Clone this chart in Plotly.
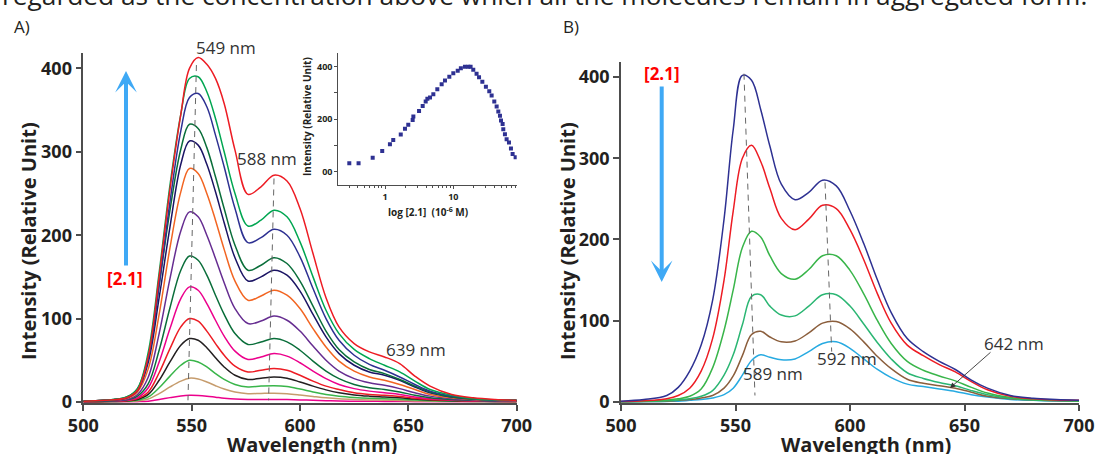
import plotly.graph_objects as go

# ---------------- data ----------------
wavelength = [500, 510, 520, 525, 530, 535, 540, 545, 549, 553, 557, 561, 565, 570, 576,
              582, 588, 594, 600, 606, 612, 618, 625, 632, 639, 646, 653, 660, 670, 680, 690, 700]

# Panel A: spectra at increasing [2.1]
a01_red = [1, 2, 5, 14, 55, 150, 255, 345, 400, 413, 405, 388, 358, 302, 249, 258, 272, 265, 232, 178, 125, 90, 70, 60, 54, 46, 31, 19, 9, 5, 3, 2]
a02_green = [1, 2, 6, 16, 60, 155, 260, 345, 388, 390, 372, 340, 300, 250, 211, 218, 230, 222, 192, 150, 110, 82, 63, 52, 44, 36, 25, 15, 8, 4, 2.5, 2]
a03_blue = [1, 2, 5, 14, 52, 140, 240, 325, 365, 370, 354, 320, 282, 232, 191, 197, 207, 200, 174, 136, 100, 74, 56, 45, 38, 30, 21, 13, 7, 4, 2.5, 2]
a04_dkgreen = [1, 2, 6, 16, 55, 140, 230, 303, 333, 328, 305, 270, 232, 188, 158, 164, 173, 166, 145, 115, 85, 63, 48, 39, 34, 27, 19, 12, 6, 3.5, 2.5, 2]
a05_navy = [1, 2, 5, 14, 48, 125, 210, 285, 313, 308, 285, 252, 215, 173, 145, 150, 158, 152, 133, 105, 78, 58, 44, 36, 32, 26, 18, 11, 6, 3.5, 2.5, 2]
a06_orange = [1, 2, 4, 12, 40, 105, 185, 252, 280, 274, 250, 218, 183, 145, 122, 127, 134, 128, 112, 88, 66, 49, 37, 30, 26, 21, 15, 9, 5, 3, 2, 1.5]
a07_purple = [0.8, 1.5, 3, 9, 30, 82, 148, 205, 228, 222, 200, 172, 143, 112, 94, 97, 103, 98, 85, 67, 50, 37, 28, 23, 20, 16, 11, 7, 4, 2.5, 1.5, 1]
a08_dkgreen = [0.5, 1, 2.5, 7, 22, 62, 113, 158, 175, 170, 152, 128, 105, 82, 69, 72, 76, 72, 62, 49, 37, 28, 21, 17, 15, 12, 8, 5, 3, 2, 1.2, 1]
a09_magenta = [0.4, 0.8, 2, 5, 17, 48, 88, 124, 138, 134, 118, 98, 79, 61, 51, 54, 58, 55, 47, 37, 28, 21, 16, 13, 11, 9, 6, 4, 2.5, 1.5, 1, 0.8]
a10_red = [0.3, 0.6, 1.5, 4, 12, 35, 64, 90, 100, 97, 85, 70, 56, 43, 36, 38, 40, 38, 32, 25, 19, 15, 11, 9, 8, 6.5, 4.5, 3, 2, 1.2, 0.8, 0.6]
a11_black = [0.2, 0.5, 1.2, 3, 9, 26, 48, 68, 76, 74, 65, 53, 42, 32, 27, 28.5, 30, 28.5, 24, 19, 14.5, 11, 8.5, 7, 6, 5, 3.5, 2.5, 1.5, 1, 0.7, 0.5]
a12_green = [0.2, 0.4, 0.8, 2, 6, 17, 31, 44, 50, 48, 42, 34, 27, 21, 18, 19, 19.5, 18.5, 15.5, 12, 9, 7, 5.5, 4.5, 4, 3.2, 2.3, 1.6, 1, 0.7, 0.5, 0.4]
a13_tan = [0.1, 0.3, 0.5, 1.2, 3.5, 10, 18, 25, 28.5, 27.5, 24, 19.5, 15.5, 12, 10, 10.3, 10.5, 10, 8.5, 6.7, 5, 3.8, 3, 2.5, 2.2, 1.8, 1.3, 0.9, 0.6, 0.4, 0.3, 0.2]
a14_magenta = [0.05, 0.1, 0.2, 0.4, 1, 3, 5.2, 7.2, 8, 7.8, 7, 5.8, 4.6, 3.5, 3, 3, 3, 2.9, 2.5, 2, 1.5, 1.2, 0.9, 0.8, 0.7, 0.6, 0.4, 0.3, 0.2, 0.15, 0.1, 0.1]

# Panel B: spectra at decreasing [2.1]
b1_navy = [1, 3, 8, 18, 38, 70, 125, 225, 335, 402, 396, 360, 315, 268, 249, 258, 273, 266, 235, 195, 150, 110, 78, 62, 50, 40, 27, 17, 8, 4.5, 3, 2]
b2_red = [0.5, 1.5, 4, 8, 17, 38, 78, 150, 235, 300, 316, 296, 263, 226, 212, 225, 242, 238, 212, 175, 133, 97, 70, 57, 46, 37, 25, 15, 7, 4, 2.5, 2]
b3_green = [0.3, 1, 2.5, 4, 7, 16, 42, 88, 138, 190, 210, 203, 180, 158, 151, 163, 180, 180, 162, 133, 100, 72, 50, 39, 32, 26, 18, 11, 5.5, 3, 2, 1.5]
b4_green = [0.2, 0.7, 1.5, 2.5, 4, 7, 14, 33, 58, 95, 130, 132, 118, 107, 106, 118, 132, 132, 118, 96, 73, 53, 36, 29, 24, 20, 14, 9, 4.5, 2.5, 1.7, 1.2]
b5_brown = [0.2, 0.5, 1, 2, 3, 5, 8, 17, 32, 57, 83, 87, 80, 74, 75, 85, 97, 99, 90, 74, 56, 41, 28, 23, 20, 17, 12, 7, 4, 2.5, 1.5, 1]
b6_cyan = [0.1, 0.3, 0.7, 1, 2, 3, 5, 9, 17, 33, 51, 58, 55, 52, 53, 62, 72, 74, 66, 53, 40, 30, 22, 19, 16, 13, 9, 6, 3, 2, 1.2, 1]

# Inset: intensity vs concentration of 2.1 (1e-6 M)
inset_conc = [0.30, 0.41, 0.66, 0.91, 1.18, 1.32, 1.70, 1.96, 2.19, 2.54, 2.60, 3.15, 3.56, 3.94,
              4.17, 4.56, 5.10, 5.83, 6.75, 7.55, 8.74, 10.0, 11.6, 12.9, 14.8, 16.6, 17.9, 19.6,
              21.9, 23.8, 26.6, 30.0, 33.6, 36.4, 39.8, 43.1, 45.6, 48.2, 49.9, 52.7, 53.9, 57.0,
              60.3, 65.3, 69.8, 73.8, 81.7]
inset_int = [32, 32, 53, 79, 105, 121, 142, 164, 179, 197, 210, 231, 250, 267,
             278, 283, 295, 314, 333, 347, 362, 375, 385, 394, 400, 400, 400, 388,
             373, 360, 343, 324, 306, 290, 267, 248, 229, 213, 195, 182, 162, 143,
             124, 111, 88, 67, 55]

peak_labels_A = ["549 nm", "588 nm", "639 nm"]
peak_labels_B = ["589 nm", "592 nm", "642 nm"]
ticks_main = [0, 100, 200, 300, 400]
ticks_wl = [500, 550, 600, 650, 700]

series_A = [a14_magenta, a13_tan, a12_green, a11_black, a10_red, a09_magenta, a08_dkgreen,
            a07_purple, a06_orange, a05_navy, a04_dkgreen, a03_blue, a02_green, a01_red]
colors_A = ["#ec008c", "#c69c6d", "#39b54a", "#231f20", "#ed1c24", "#ec008c", "#0a6e3a",
            "#662d91", "#f26522", "#1b1464", "#0a6e3a", "#2e3192", "#00a651", "#ed1c24"]
series_B = [b6_cyan, b5_brown, b4_green, b3_green, b2_red, b1_navy]
colors_B = ["#27aae1", "#8b5e3c", "#2bb673", "#39b54a", "#ed1c24", "#2e3192"]

# ---------------- figure ----------------
W, H = 1097, 454
def fx(p): return p / W
def fy(p): return 1 - p / H

AX = "#4d4d4d"
TXT = "#231f20"
FONT = "Open Sans"

fig = go.Figure()
for vals, col in zip(series_A, colors_A):
    fig.add_trace(go.Scatter(x=wavelength, y=vals, mode="lines", xaxis="x", yaxis="y",
                             line=dict(color=col, width=1.5, shape="spline", smoothing=1.0),
                             showlegend=False, hoverinfo="skip"))
for vals, col in zip(series_B, colors_B):
    fig.add_trace(go.Scatter(x=wavelength, y=vals, mode="lines", xaxis="x2", yaxis="y2",
                             line=dict(color=col, width=1.5, shape="spline", smoothing=1.0),
                             showlegend=False, hoverinfo="skip"))
fig.add_trace(go.Scatter(x=inset_conc, y=inset_int, mode="markers", xaxis="x3", yaxis="y3",
                         marker=dict(symbol="square", size=4, color="#2e3192", line=dict(width=0)),
                         showlegend=False, hoverinfo="skip"))

main_axis = dict(showline=True, linecolor=AX, linewidth=1.5, ticks="outside", ticklen=6,
                 tickwidth=1.5, tickcolor=AX, showgrid=False, zeroline=False, automargin=False,
                 tickfont=dict(family=FONT, size=18, color=TXT, weight="bold"))

fig.update_layout(
    template="none",
    width=W, height=H, margin=dict(l=0, r=0, t=0, b=0, pad=0), autosize=False,
    paper_bgcolor="white", plot_bgcolor="white", showlegend=False,
    font=dict(family=FONT, color=TXT),
    xaxis=dict(main_axis, domain=[fx(83.3), fx(516.7)], range=[500, 700], tickvals=ticks_wl, anchor="y"),
    yaxis=dict(main_axis, domain=[fy(402.8), fy(53.4)], range=[-1, 418], tickvals=ticks_main, anchor="x"),
    xaxis2=dict(main_axis, domain=[fx(621), fx(1079)], range=[500, 700], tickvals=ticks_wl, anchor="y2"),
    yaxis2=dict(main_axis, domain=[fy(402.8), fy(61.5)], range=[-1, 419], tickvals=ticks_main, anchor="x2"),
    xaxis3=dict(type="log", domain=[fx(338.3), fx(516.7)], range=[-0.684, 1.928], anchor="y3",
                showline=True, linecolor=AX, linewidth=1, ticks="outside", ticklen=3, tickcolor=AX,
                tickvals=[1, 10], ticktext=["1", "10"], showgrid=False, zeroline=False, automargin=False,
                minor=dict(ticks="outside", ticklen=2, tickcolor=AX,
                           tickvals=[0.3, 0.4, 0.5, 0.6, 0.7, 0.8, 0.9, 2, 3, 4, 5, 6, 7, 8, 9,
                                     20, 30, 40, 50, 60, 70, 80]),
                tickfont=dict(family=FONT, size=9, color=TXT, weight="bold")),
    yaxis3=dict(domain=[fy(185), fy(53.3)], range=[-50.7, 451], anchor="x3",
                showline=True, linecolor=AX, linewidth=1, ticks="outside", ticklen=3, tickcolor=AX,
                tickvals=[0, 100, 200, 300, 400], ticktext=["00", "", "200", "", "400"],
                showgrid=False, zeroline=False, automargin=False,
                tickfont=dict(family=FONT, size=9, color=TXT, weight="bold")),
)

# dashed peak guides
dash_style = dict(color="#666666", width=1, dash="6px,5px")
guides = [("x", "y", 552.2, 404, 548.3, 2), ("x", "y", 588.0, 268, 585.5, 2),
          ("x2", "y2", 553.7, 404, 558.5, 8), ("x2", "y2", 589.1, 270, 592.0, 62)]
for xr, yr, x0, y0, x1, y1 in guides:
    fig.add_shape(type="line", xref=xr, yref=yr, x0=x0, y0=y0, x1=x1, y1=y1, line=dash_style)

ann = []
def text(x, y, s, size=17, bold=False, color="#333333", angle=0, xanchor="center", yanchor="middle"):
    ann.append(dict(x=fx(x), y=fy(y), xref="paper", yref="paper", text=s, showarrow=False,
                    textangle=angle, xanchor=xanchor, yanchor=yanchor,
                    font=dict(family=FONT, size=size, color=color, weight="bold" if bold else "normal")))

# top cut-off sentence
text(0, 15, "regarded as the concentration above which all the molecules remain in aggregated form.",
     size=26.3, color="#231f20", xanchor="left", yanchor="bottom")
text(12, 26, "A)", size=17, color="#231f20", xanchor="left")
text(561, 26, "B)", size=17, color="#231f20", xanchor="left")

# peak labels
text(225.5, 47, peak_labels_A[0])
text(267, 158, peak_labels_A[1])
text(416, 349, peak_labels_A[2])
text(773, 373, peak_labels_B[0])
text(847, 358, peak_labels_B[1])
text(1014, 343, peak_labels_B[2])

# [2.1] labels
text(125, 278, "[2.1]", size=17, bold=True, color="#ff0000")
text(662, 73, "[2.1]", size=17, bold=True, color="#ff0000")

# axis titles
for xc in (28, 567):
    text(xc, 241, "Intensity (Relative Unit)", size=20, bold=True, color=TXT, angle=-90)
text(312, 444, "Wavelength (nm)", size=20, bold=True, color=TXT)
text(866, 444, "Wavelength (nm)", size=20, bold=True, color=TXT)

# inset titles
text(307, 117, "Intensity (Relative Unit)", size=10, bold=True, color=TXT, angle=-90)
text(428, 212, "log [2.1]  (10<sup>-6</sup> M)", size=10, bold=True, color=TXT)

# arrows
ann.append(dict(x=fx(126), y=fy(71), xref="paper", yref="paper", ax=0, ay=196, text="",
                showarrow=True, arrowhead=3, arrowsize=0.9, arrowwidth=4, arrowcolor="#3fa9f5"))
ann.append(dict(x=fx(661.7), y=fy(282), xref="paper", yref="paper", ax=0, ay=-197, text="",
                showarrow=True, arrowhead=3, arrowsize=0.9, arrowwidth=4, arrowcolor="#3fa9f5"))
ann.append(dict(x=fx(950), y=fy(388), xref="paper", yref="paper", ax=42, ay=-37, text="",
                showarrow=True, arrowhead=2, arrowsize=1.2, arrowwidth=0.9, arrowcolor="#333333"))

fig.update_layout(annotations=ann)
fig.write_html("out.html")
